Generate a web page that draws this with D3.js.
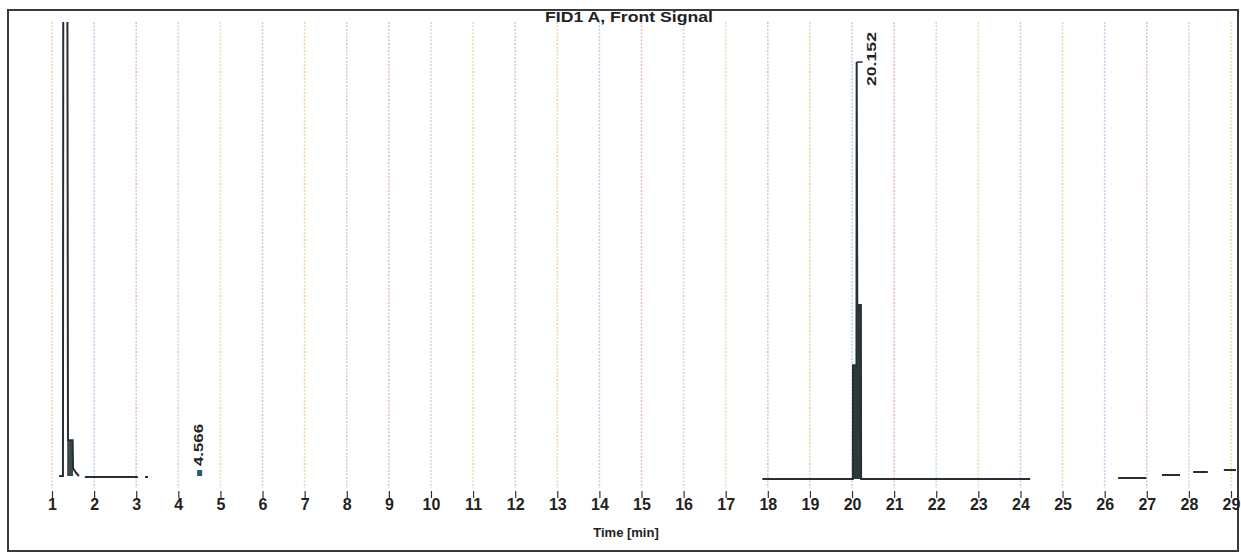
<!DOCTYPE html>
<html><head><meta charset="utf-8">
<script src="https://cdn.jsdelivr.net/npm/d3@7"></script>
<style>body{margin:0;background:#fff}svg{display:block}</style>
</head><body><svg id="c" width="1241" height="554"></svg>
<script>
// ---- data ----
const tickLabels = [1,2,3,4,5,6,7,8,9,10,11,12,13,14,15,16,17,18,19,20,21,22,23,24,25,26,27,28,29];
const titleText = "FID1 A, Front Signal";
const axisTitle = "Time [min]";

// solvent peak (goes off scale) and its tail
const solventTime   = [1.17, 1.26, 1.27, 1.36, 1.38, 1.49, 1.50, 1.57, 1.64];
const solventSignal = [1.3, 1.3, 140, 140, 9.1, 9.1, 3.0, 2.0, 1.3];
// dark shoulder block under the solvent tail
const shoulderTime   = [1.36, 1.38, 1.49, 1.50];
const shoulderSignal = [9.1, 9.1, 9.1, 3.0];
// baseline pieces after the solvent peak
const base1Time = [1.78, 3.04];  const base1Signal = [1.09, 1.09];
const base2Time = [3.21, 3.28];  const base2Signal = [1.09, 1.09];
// main peak region
const mainTime   = [17.87, 20.02, 20.023, 20.105, 20.11, 20.125, 20.21, 20.215, 24.23];
const mainSignal = [0.65, 0.65, 25.4, 25.4, 91.3, 38.5, 38.5, 0.65, 0.65];
const mainPeakStart = 20.02, mainPeakEnd = 20.215;
// late baseline pieces
const late1Time = [26.32, 26.99]; const late1Signal = [0.87, 0.87];
const late2Time = [27.36, 27.79]; const late2Signal = [1.52, 1.52];
const late3Time = [28.10, 28.45]; const late3Signal = [2.17, 2.17];
const late4Time = [28.83, 29.14]; const late4Signal = [2.61, 2.61];
// peak annotations
const peakTimes  = [4.566, 20.152];
const peakLabels = ["4.566", "20.152"];

// ---- drawing ----
const svg = d3.select("#c");
const W = 1241, H = 554;
const x = d3.scaleLinear().domain([1, 29]).range([52, 1231]);
const y = d3.scaleLinear().domain([0, 100]).range([482, 22]);

const defs = svg.append("defs");
defs.append("clipPath").attr("id", "plotclip")
  .append("rect").attr("x", 10).attr("y", 22).attr("width", 1226).attr("height", 520);

const gridCols = ["#e8c890", "#a8c6e6", "#d9aabb", "#b4cfe2", "#e6d39a", "#c4b4d8"];
const grad = defs.append("linearGradient").attr("id", "gg")
  .attr("gradientUnits", "userSpaceOnUse").attr("x1", 0).attr("x2", 0).attr("y1", 22).attr("y2", 488);
[["0%","#f0d8a0"],["30%","#b9d2ea"],["55%","#e2bccb"],["80%","#b9d2ea"],["100%","#f0d8a0"]]
  .forEach(([o,c]) => grad.append("stop").attr("offset", o).attr("stop-color", c));

// frame
svg.append("rect").attr("x", 8).attr("y", 10).attr("width", 1230).attr("height", 541)
  .attr("fill", "none").attr("stroke", "#3a3a3a").attr("stroke-width", 2);

// grid lines
svg.append("g").selectAll("line").data(tickLabels).join("line")
  .attr("x1", d => x(d)).attr("x2", d => x(d))
  .attr("y1", 22).attr("y2", 488)
  .attr("stroke", (d, i) => gridCols[i % gridCols.length])
  .attr("stroke-width", 1.6).attr("stroke-dasharray", "2,1.5").attr("opacity", 0.75);

// axis
const axis = d3.axisBottom(x).tickValues(tickLabels).tickSize(7).tickPadding(1).tickFormat(d3.format("d"));
const ag = svg.append("g").attr("transform", "translate(0,491)").call(axis);
ag.select(".domain").remove();
ag.selectAll(".tick line").attr("stroke", "#333").attr("stroke-width", 1.2);
ag.selectAll(".tick text").attr("fill", "#222")
  .style("font-family", "'Liberation Sans', Arial, sans-serif")
  .style("font-size", "16px").style("font-weight", "bold");

// title & axis title
svg.append("text").attr("x", 629).attr("y", 22).attr("text-anchor", "middle")
  .attr("textLength", 168).attr("lengthAdjust", "spacingAndGlyphs")
  .style("font-family", "'Liberation Sans', Arial, sans-serif")
  .style("font-size", "14px").style("font-weight", "bold").attr("fill", "#222")
  .text(titleText);
svg.append("text").attr("x", 626).attr("y", 537).attr("text-anchor", "middle")
  .style("font-family", "'Liberation Sans', Arial, sans-serif")
  .style("font-size", "13px").style("font-weight", "bold").attr("fill", "#222")
  .text(axisTitle);

// traces
const traceCol = "#263034";
const plot = svg.append("g").attr("clip-path", "url(#plotclip)");
const line = d3.line().x(d => x(d[0])).y(d => y(d[1]));
const area = d3.area().x(d => x(d[0])).y0(y(0.65)).y1(d => y(d[1]));
const zip = (a, b) => a.map((t, i) => [t, b[i]]);

const mainPts = zip(mainTime, mainSignal);
plot.append("path").datum(mainPts.filter(d => d[0] >= mainPeakStart && d[0] <= mainPeakEnd))
  .attr("d", area).attr("fill", "#2c3a3c");
plot.append("path").datum(zip(shoulderTime, shoulderSignal))
  .attr("d", d3.area().x(d => x(d[0])).y0(y(1.3)).y1(d => y(d[1]))).attr("fill", "#3a4a4c");

[[solventTime, solventSignal], [base1Time, base1Signal], [base2Time, base2Signal],
 [mainTime, mainSignal], [late1Time, late1Signal], [late2Time, late2Signal],
 [late3Time, late3Signal], [late4Time, late4Signal]].forEach(([t, s]) => {
  plot.append("path").datum(zip(t, s)).attr("d", line)
    .attr("fill", "none").attr("stroke", traceCol).attr("stroke-width", 2);
});

// peak annotations
const fontAnn = "'Liberation Sans', Arial, sans-serif";
// 4.566 : marker + rotated label
svg.append("rect").attr("x", x(peakTimes[0]) - 5).attr("y", 470).attr("width", 5).attr("height", 6)
  .attr("fill", "#2a5a70");
svg.append("text")
  .attr("transform", `translate(${x(peakTimes[0]) + 1},466) rotate(-90)`)
  .attr("textLength", 42).attr("lengthAdjust", "spacingAndGlyphs")
  .style("font-family", fontAnn).style("font-size", "13px").style("font-weight", "bold")
  .attr("fill", "#222").text(peakLabels[0]);
// 20.152 : apex tick + rotated label
const apexY = y(d3.max(mainSignal));
svg.append("line").attr("x1", x(20.11)).attr("x2", x(20.11) + 6).attr("y1", apexY).attr("y2", apexY)
  .attr("stroke", traceCol).attr("stroke-width", 1.5);
svg.append("text")
  .attr("transform", `translate(${x(peakTimes[1]) + 18},${apexY + 24}) rotate(-90)`)
  .attr("textLength", 54).attr("lengthAdjust", "spacingAndGlyphs")
  .style("font-family", fontAnn).style("font-size", "13px").style("font-weight", "bold")
  .attr("fill", "#222").text(peakLabels[1]);
</script></body></html>
